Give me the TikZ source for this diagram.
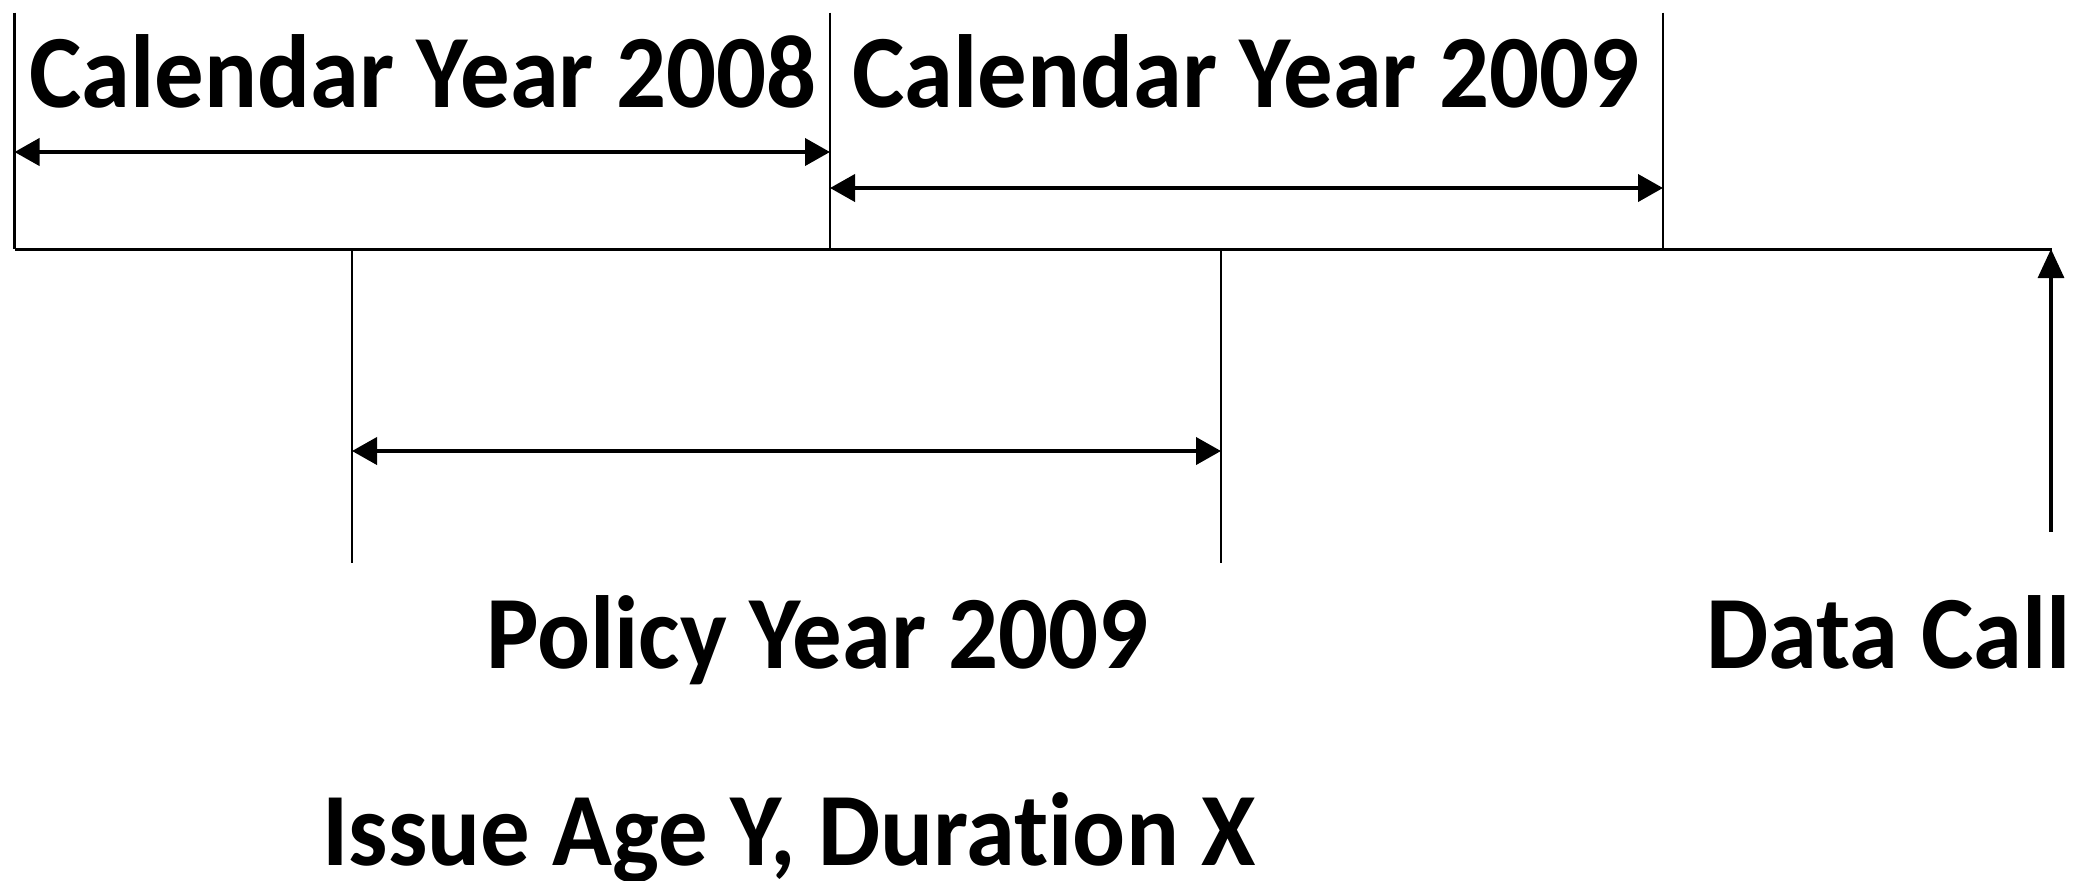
\documentclass[tikz,border=0pt]{standalone}
\usepackage{fontspec}
\setmainfont{Carlito}[FakeStretch=0.95,Ligatures=NoCommon]
\usetikzlibrary{arrows.meta}
\tikzset{
  tick/.style={line width=1.25pt},
  axis/.style={line width=1.5pt},
  span/.style={line width=2pt,{Triangle[length=12.5pt,width=13.5pt]}-{Triangle[length=12.5pt,width=13.5pt]}},
  callarrow/.style={line width=1.6pt,-{Triangle[length=14.5pt,width=13pt]}},
  lbl/.style={inner sep=0pt,anchor=base,font=\fontsize{52}{60}\selectfont\bfseries}
}
\begin{document}
\begin{tikzpicture}[x=0.5pt,y=-0.5pt]
\useasboundingbox (0,0) rectangle (2083,880);
% coordinates
\coordinate (t0) at (14.5,12.7);
\coordinate (t1) at (830,12.7);
\coordinate (t2) at (1663,12.7);
\coordinate (b0) at (14.5,249);
\coordinate (b1) at (830,249);
\coordinate (b2) at (1663,249);
\coordinate (p0) at (352,249);
\coordinate (p1) at (1221,249);
\coordinate (q0) at (352,563);
\coordinate (q1) at (1221,563);
\coordinate (axend) at (2052,249);
\coordinate (dc) at (2051,249);
\coordinate (dcb) at (2051,531.7);
\coordinate (a0) at (14.5,152);
\coordinate (a1) at (830,152);
\coordinate (c0) at (830,188);
\coordinate (c1) at (1663,188);
\coordinate (pa0) at (352,451);
\coordinate (pa1) at (1221,451);
% ticks
\draw[tick] (t0) -- (b0);
\draw[tick] (t1) -- (b1);
\draw[tick] (t2) -- (b2);
\draw[tick] (p0) -- (q0);
\draw[tick] (p1) -- (q1);
% axis
\draw[axis] (b0) -- (axend);
% spans
\draw[span] (a0) -- (a1);
\draw[span] (c0) -- (c1);
\draw[span] (pa0) -- (pa1);
\draw[callarrow] (dcb) -- (dc);
% labels
\node[lbl] (cy8) at (423,107) {Calendar Year 2008};
\node[lbl] (cy9) at (1246,107) {Calendar Year 2009};
\node[lbl] (py9) at (817.5,668) {Policy Year 2009};
\node[lbl,anchor=base east] (dcl) at (2071,668) {Data Call};
\node[lbl] (iss) at (789,865) {Issue Age Y, Duration X};
\end{tikzpicture}
\end{document}
